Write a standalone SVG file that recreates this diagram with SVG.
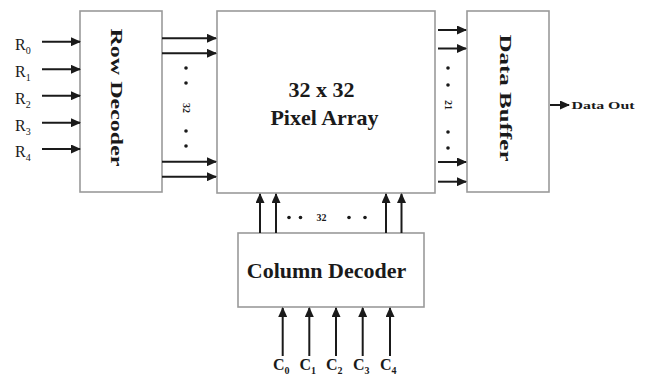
<svg xmlns="http://www.w3.org/2000/svg" width="645" height="376" viewBox="0 0 645 376">
<style>
.box{fill:#fff;stroke:#9a9a9a;stroke-width:1.6}
.ln{stroke:#1a1a1a;stroke-width:2;fill:none;marker-end:url(#ah)}
.t{font-family:"Liberation Serif","Times New Roman",serif;fill:#1a1a1a}
.b{font-weight:bold}
.dot{fill:#1a1a1a}
</style>
<defs>
<marker id="ah" markerWidth="10" markerHeight="9" refX="9" refY="4.5" orient="auto" markerUnits="userSpaceOnUse">
<path d="M0,0 L10,4.5 L0,9 z" fill="#1a1a1a"/>
</marker>
</defs>
<rect width="645" height="376" fill="#fff"/>

<g id="row-decoder">
<rect class="box" x="80" y="11" width="82" height="181"/>
<text class="t b" font-size="17" transform="translate(111,97.5) rotate(90)" text-anchor="middle" textLength="138" lengthAdjust="spacingAndGlyphs">Row Decoder</text>
</g>

<g id="pixel-array">
<rect class="box" x="217" y="11" width="218" height="182"/>
<text class="t b" font-size="22" x="321.5" y="97" text-anchor="middle">32 x 32</text>
<text class="t b" font-size="22" x="324.5" y="125" text-anchor="middle">Pixel Array</text>
</g>

<g id="data-buffer">
<rect class="box" x="467" y="11" width="82" height="181"/>
<text class="t b" font-size="17" transform="translate(500,98) rotate(90)" text-anchor="middle" textLength="127" lengthAdjust="spacingAndGlyphs">Data Buffer</text>
</g>

<g id="column-decoder">
<rect class="box" x="238" y="233" width="186" height="74"/>
<text class="t b" font-size="22" x="326.5" y="278" text-anchor="middle">Column Decoder</text>
</g>

<g id="labels">
<text class="t" font-size="16" x="15" y="49.5">R<tspan font-size="10" dy="4">0</tspan></text>
<text class="t" font-size="16" x="15" y="77">R<tspan font-size="10" dy="4">1</tspan></text>
<text class="t" font-size="16" x="15" y="103.5">R<tspan font-size="10" dy="4">2</tspan></text>
<text class="t" font-size="16" x="15" y="130.5">R<tspan font-size="10" dy="4">3</tspan></text>
<text class="t" font-size="16" x="15" y="157">R<tspan font-size="10" dy="4">4</tspan></text>
<text class="t b" font-size="16" x="273" y="370">C<tspan font-size="10" dy="4">0</tspan></text>
<text class="t b" font-size="16" x="299.5" y="370">C<tspan font-size="10" dy="4">1</tspan></text>
<text class="t b" font-size="16" x="326" y="370">C<tspan font-size="10" dy="4">2</tspan></text>
<text class="t b" font-size="16" x="353" y="370">C<tspan font-size="10" dy="4">3</tspan></text>
<text class="t b" font-size="16" x="380" y="370">C<tspan font-size="10" dy="4">4</tspan></text>
<text class="t b" font-size="11" x="571.5" y="109" textLength="63" lengthAdjust="spacingAndGlyphs">Data Out</text>
<text class="t b" font-size="10" transform="translate(183,108) rotate(90)" text-anchor="middle">32</text>
<text class="t b" font-size="10" transform="translate(445,105) rotate(90)" text-anchor="middle">21</text>
<text class="t b" font-size="10" x="321.5" y="221" text-anchor="middle">32</text>
<circle class="dot" cx="186" cy="68" r="1.8"/>
<circle class="dot" cx="186" cy="83" r="1.8"/>
<circle class="dot" cx="186" cy="131" r="1.8"/>
<circle class="dot" cx="186" cy="146" r="1.8"/>
<circle class="dot" cx="448" cy="68" r="1.8"/>
<circle class="dot" cx="448" cy="85" r="1.8"/>
<circle class="dot" cx="448" cy="132" r="1.8"/>
<circle class="dot" cx="448" cy="148" r="1.8"/>
<circle class="dot" cx="289" cy="217.5" r="1.8"/>
<circle class="dot" cx="300.5" cy="217.5" r="1.8"/>
<circle class="dot" cx="349" cy="217.5" r="1.8"/>
<circle class="dot" cx="365" cy="217.5" r="1.8"/>
</g>

<g id="connectors">
<line class="ln" x1="42" y1="41.7" x2="80" y2="41.7"/>
<line class="ln" x1="42" y1="69.3" x2="80" y2="69.3"/>
<line class="ln" x1="42" y1="95.7" x2="80" y2="95.7"/>
<line class="ln" x1="42" y1="122.7" x2="80" y2="122.7"/>
<line class="ln" x1="42" y1="149" x2="80" y2="149"/>
<line class="ln" x1="162" y1="38.3" x2="216" y2="38.3"/>
<line class="ln" x1="162" y1="53.3" x2="216" y2="53.3"/>
<line class="ln" x1="162" y1="161.7" x2="216" y2="161.7"/>
<line class="ln" x1="162" y1="176.7" x2="216" y2="176.7"/>
<line class="ln" x1="438" y1="30" x2="466" y2="30"/>
<line class="ln" x1="438" y1="48.5" x2="466" y2="48.5"/>
<line class="ln" x1="438" y1="162" x2="466" y2="162"/>
<line class="ln" x1="438" y1="181.7" x2="466" y2="181.7"/>
<line class="ln" x1="550" y1="105" x2="569" y2="105"/>
<line class="ln" x1="260" y1="233" x2="260" y2="194"/>
<line class="ln" x1="276" y1="233" x2="276" y2="194"/>
<line class="ln" x1="386" y1="233" x2="386" y2="194"/>
<line class="ln" x1="401.5" y1="233" x2="401.5" y2="194"/>
<line class="ln" x1="282.7" y1="356" x2="282.7" y2="308"/>
<line class="ln" x1="309.3" y1="356" x2="309.3" y2="308"/>
<line class="ln" x1="336" y1="356" x2="336" y2="308"/>
<line class="ln" x1="362.7" y1="356" x2="362.7" y2="308"/>
<line class="ln" x1="390" y1="356" x2="390" y2="308"/>
</g>
</svg>
